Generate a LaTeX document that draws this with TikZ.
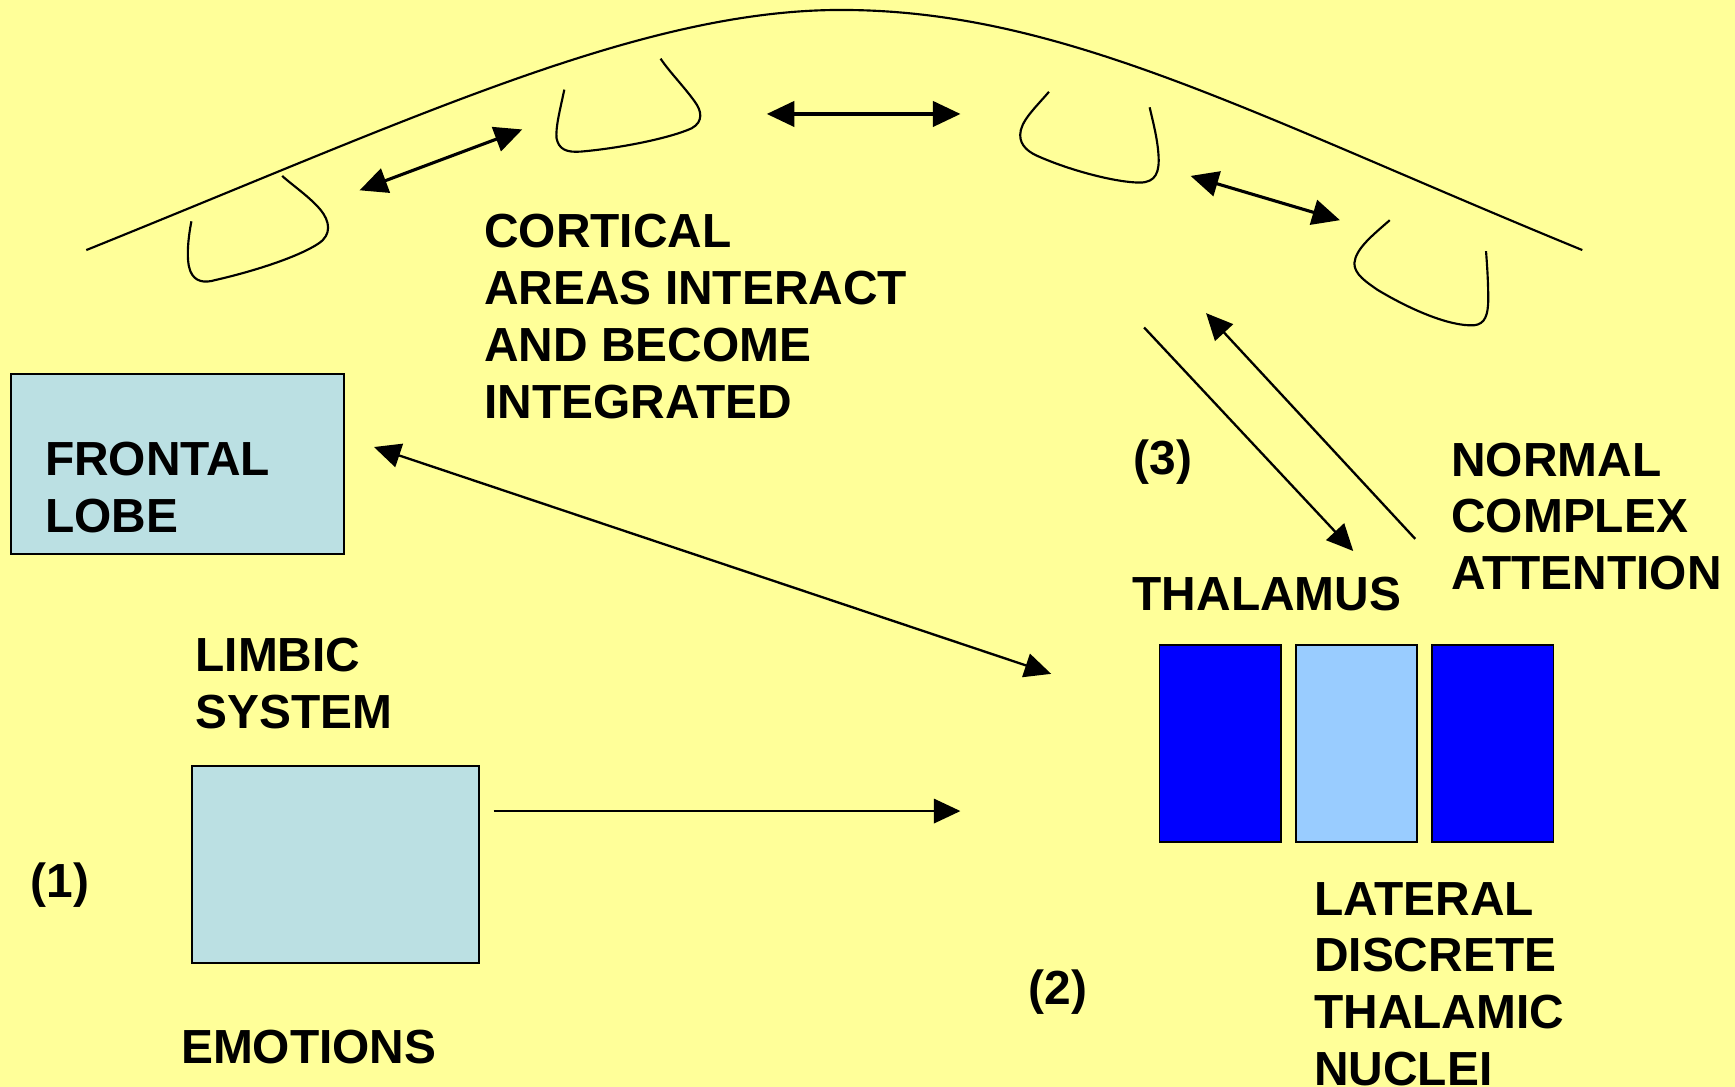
\documentclass[tikz,border=0pt]{standalone}
\usepackage{fontspec}
\setmainfont{Liberation Sans}
\usetikzlibrary{arrows.meta}
\definecolor{bgyellow}{HTML}{FFFF99}
\definecolor{lobefill}{HTML}{BBE0E3}
\definecolor{thaldark}{HTML}{0000FF}
\definecolor{thallight}{HTML}{99CCFF}
\begin{document}
\begin{tikzpicture}[x=0.01cm,y=-0.01cm,
  lbl/.style={font=\fontsize{12.3}{14.6}\selectfont\bfseries, anchor=base west, inner sep=0pt, align=left},
  box/.style={draw=black, line width=0.5pt, anchor=north west, inner sep=0pt},
  cortex/.style={line width=0.55pt},
  dbl/.style={line width=0.8pt, {Triangle[length=0.25cm,width=0.23cm]}-{Triangle[length=0.25cm,width=0.23cm]}},
  sgl/.style={line width=0.6pt, -{Triangle[length=0.24cm,width=0.22cm]}},
  dblthin/.style={line width=0.6pt, {Triangle[length=0.24cm,width=0.22cm]}-{Triangle[length=0.24cm,width=0.22cm]}}]
\fill[bgyellow] (0,0) rectangle (1568,982);
\useasboundingbox (0,0) rectangle (1568,982);

% cortex outline
\draw[cortex] (78,226) .. controls (378,105) and (580,9) .. (760,9)
  .. controls (960,9) and (1130,103) .. (1430,226);

% gyri / cups
\draw[cortex] (173,200) .. controls (170,215) and (168,235) .. (172,245)
  .. controls (176,255) and (185,256) .. (195,253)
  .. controls (230,245) and (270,232) .. (288,220)
  .. controls (300,212) and (298,200) .. (290,190)
  .. controls (280,178) and (265,168) .. (255,159);
\draw[cortex] (510,81) .. controls (506,100) and (502,115) .. (503,125)
  .. controls (505,135) and (512,138) .. (525,137)
  .. controls (560,134) and (605,125) .. (625,116)
  .. controls (636,110) and (634,100) .. (628,92)
  .. controls (618,78) and (605,65) .. (597,53);
\draw[cortex] (948,83) .. controls (935,98) and (922,110) .. (922,122)
  .. controls (922,132) and (930,138) .. (940,142)
  .. controls (970,155) and (1010,165) .. (1030,165)
  .. controls (1045,165) and (1048,155) .. (1047,140)
  .. controls (1046,125) and (1042,110) .. (1039,97);
\draw[cortex] (1256,199) .. controls (1240,213) and (1225,225) .. (1224,238)
  .. controls (1224,248) and (1235,255) .. (1245,262)
  .. controls (1275,280) and (1310,295) .. (1332,294)
  .. controls (1342,293) and (1345,285) .. (1345,270)
  .. controls (1345,255) and (1344,240) .. (1343,227);

% boxes
\node[box, fill=lobefill, minimum width=3.01cm, minimum height=1.63cm] (frontal) at (9,337) {};
\node[box, fill=lobefill, minimum width=2.59cm, minimum height=1.78cm] (limbic) at (173,691) {};
\node[box, fill=thaldark, minimum width=1.10cm, minimum height=1.78cm] (thalA) at (1047,582) {};
\node[box, fill=thallight, minimum width=1.10cm, minimum height=1.78cm] (thalB) at (1170,582) {};
\node[box, fill=thaldark, minimum width=1.10cm, minimum height=1.78cm] (thalC) at (1293,582) {};

% arrow end points
\coordinate (a1s) at (325,172); \coordinate (a1e) at (472,117);
\coordinate (a2s) at (693,103); \coordinate (a2e) at (868,103);
\coordinate (a3s) at (1076,159); \coordinate (a3e) at (1211,199);
\coordinate (tds) at (1034,296); \coordinate (tde) at (1223,498);
\coordinate (tus) at (1279,487); \coordinate (tue) at (1090,283);
\coordinate (fls) at (338,404); \coordinate (fle) at (950,609);
\coordinate (lis) at (446,733); \coordinate (lie) at (868,733);

\draw[dbl] (a1s) -- (a1e);
\draw[dbl] (a2s) -- (a2e);
\draw[dbl] (a3s) -- (a3e);
\draw[sgl] (tds) -- (tde);
\draw[sgl] (tus) -- (tue);
\draw[dblthin] (fls) -- (fle);
\draw[sgl] (lis) -- (lie);

% labels (base anchor = baseline of last line)
\node[lbl] (cort) at (437,378) {CORTICAL\\AREAS INTERACT\\AND BECOME\\INTEGRATED};
\node[lbl] (frt) at (40,481) {FRONTAL\\LOBE};
\node[lbl] (n3) at (1024,429) {(3)};
\node[lbl] (nca) at (1311,533) {NORMAL\\COMPLEX\\ATTENTION};
\node[lbl] (thl) at (1023,552) {THALAMUS};
\node[lbl] (lmb) at (176,658) {LIMBIC\\SYSTEM};
\node[lbl] (n1) at (27,811) {(1)};
\node[lbl] (n2) at (929,908) {(2)};
\node[lbl] (ldt) at (1187,981) {LATERAL\\DISCRETE\\THALAMIC\\NUCLEI};
\node[lbl] (emo) at (163,961) {EMOTIONS};
\end{tikzpicture}
\end{document}
